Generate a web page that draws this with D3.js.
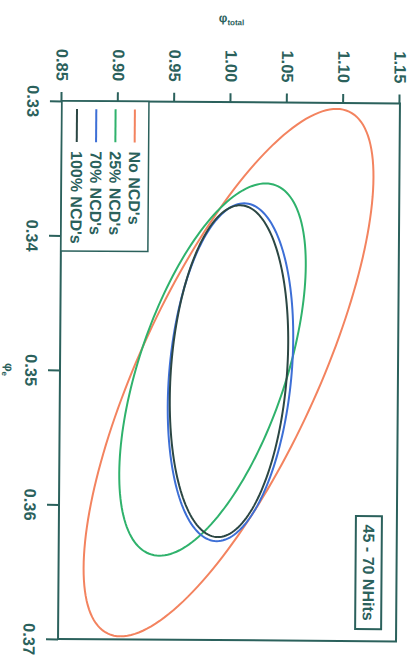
<!DOCTYPE html>
<html>
<head>
<meta charset="utf-8">
<script src="https://cdn.jsdelivr.net/npm/d3@7"></script>
<style>
  html, body { margin: 0; padding: 0; background: #ffffff; }
  svg { display: block; }
  text { font-family: "Liberation Sans", Arial, sans-serif; fill: #2b615c; }
</style>
</head>
<body>
<svg id="chart" width="414" height="664"></svg>
<script>
// Axis ranges and ticks
const phiERange = [0.33, 0.37];
const phiTotalRange = [0.85, 1.15];
const phiETicks = [0.33, 0.34, 0.35, 0.36, 0.37];
const phiTotalTicks = [0.85, 0.90, 0.95, 1.00, 1.05, 1.10, 1.15];

// One error ellipse per NCD fraction: centre, half-extent along each axis, correlation
const seriesNames = ["No NCD's", "25% NCD's", "70% NCD's", "100% NCD's"];
const centreE     = [0.35011, 0.34989, 0.35008, 0.35000];
const centreTotal = [0.9996, 0.98536, 1.00133, 1.0000];
const halfE       = [0.019665, 0.013865, 0.012565, 0.01234];
const halfTotal   = [0.12737, 0.08210, 0.05547, 0.05237];
const corr        = [-0.74, -0.56, -0.20, -0.17];
const rangeLabel  = "45 - 70 NHits";

const colours = ["#f3835f", "#2fb26c", "#3d6fd6", "#2c4744"];
const ink = "#2b615c";

const W = 538, H = 338;     // plot area in the unrotated frame
const svg = d3.select("#chart");

// The plot is laid out landscape and turned a quarter turn clockwise
const page = svg.append("g")
  .attr("transform", "rotate(0.42,207,370)");
const g = page.append("g")
  .attr("transform", "translate(398,102) rotate(90)");

const x = d3.scaleLinear().domain(phiERange).range([0, W]);
const y = d3.scaleLinear().domain(phiTotalRange).range([H, 0]);

// Ellipse outlines
const steps = d3.range(0, 361, 2).map(a => a * Math.PI / 180);
const line = d3.line().x(d => x(d[0])).y(d => y(d[1]));
seriesNames.forEach((name, i) => {
  const s = Math.sqrt(1 - corr[i] * corr[i]);
  const pts = steps.map(t => [
    centreE[i] + halfE[i] * Math.cos(t),
    centreTotal[i] + halfTotal[i] * (corr[i] * Math.cos(t) + s * Math.sin(t))
  ]);
  g.append("path")
    .attr("d", line(pts))
    .attr("fill", "none")
    .attr("stroke", colours[i])
    .attr("stroke-width", 2);
});

// Frame
g.append("rect")
  .attr("x", 0).attr("y", 0).attr("width", W).attr("height", H)
  .attr("fill", "none").attr("stroke", ink).attr("stroke-width", 2);

// Axes
const xAxis = g.append("g")
  .attr("transform", `translate(0,${H})`)
  .call(d3.axisBottom(x).tickValues(phiETicks).tickFormat(d3.format(".2f"))
    .tickSize(12).tickSizeOuter(0).tickPadding(11));
const yAxis = g.append("g")
  .call(d3.axisLeft(y).tickValues(phiTotalTicks).tickFormat(d3.format(".2f"))
    .tickSize(9).tickSizeOuter(0).tickPadding(11));
[xAxis, yAxis].forEach(a => {
  a.select(".domain").remove();
  a.selectAll("line").attr("stroke", ink).attr("stroke-width", 2);
  a.selectAll("text").attr("fill", ink)
    .style("font-size", "16.5px").style("font-weight", "bold")
    .style("font-family", "'Liberation Sans', Arial, sans-serif");
});

// Axis titles
const xt = g.append("text")
  .attr("x", W / 2).attr("y", H + 55)
  .attr("text-anchor", "middle")
  .style("font-size", "12px").style("font-weight", "bold");
xt.append("tspan").text("\u03c6");
xt.append("tspan").attr("dy", 3).style("font-size", "8px").text("e");

const yt = g.append("text")
  .attr("transform", `translate(-80,${H / 2}) rotate(-90)`)
  .attr("text-anchor", "middle")
  .style("font-size", "12px").style("font-weight", "bold");
yt.append("tspan").text("\u03c6");
yt.append("tspan").attr("dy", 3).style("font-size", "8px").text("total");

// Legend
const leg = g.append("g").attr("transform", `translate(0,${H - 87})`);
leg.append("rect")
  .attr("width", 150).attr("height", 87)
  .attr("fill", "#ffffff").attr("stroke", ink).attr("stroke-width", 1.5);
seriesNames.forEach((name, i) => {
  const ly = 14 + i * 19.3;
  leg.append("line")
    .attr("x1", 8).attr("x2", 41).attr("y1", ly).attr("y2", ly)
    .attr("stroke", colours[i]).attr("stroke-width", 2);
  leg.append("text")
    .attr("x", 50).attr("y", ly).attr("dy", "0.35em")
    .style("font-size", "16px").style("font-weight", "bold")
    .text(name);
});

// Hit-range label
const lab = g.append("g").attr("transform", "translate(413,15)");
lab.append("rect")
  .attr("width", 113).attr("height", 26)
  .attr("fill", "#ffffff").attr("stroke", ink).attr("stroke-width", 2);
lab.append("text")
  .attr("x", 56.5).attr("y", 13).attr("dy", "0.35em")
  .attr("text-anchor", "middle")
  .style("font-size", "16px").style("font-weight", "bold")
  .text(rangeLabel);
</script>
</body>
</html>
